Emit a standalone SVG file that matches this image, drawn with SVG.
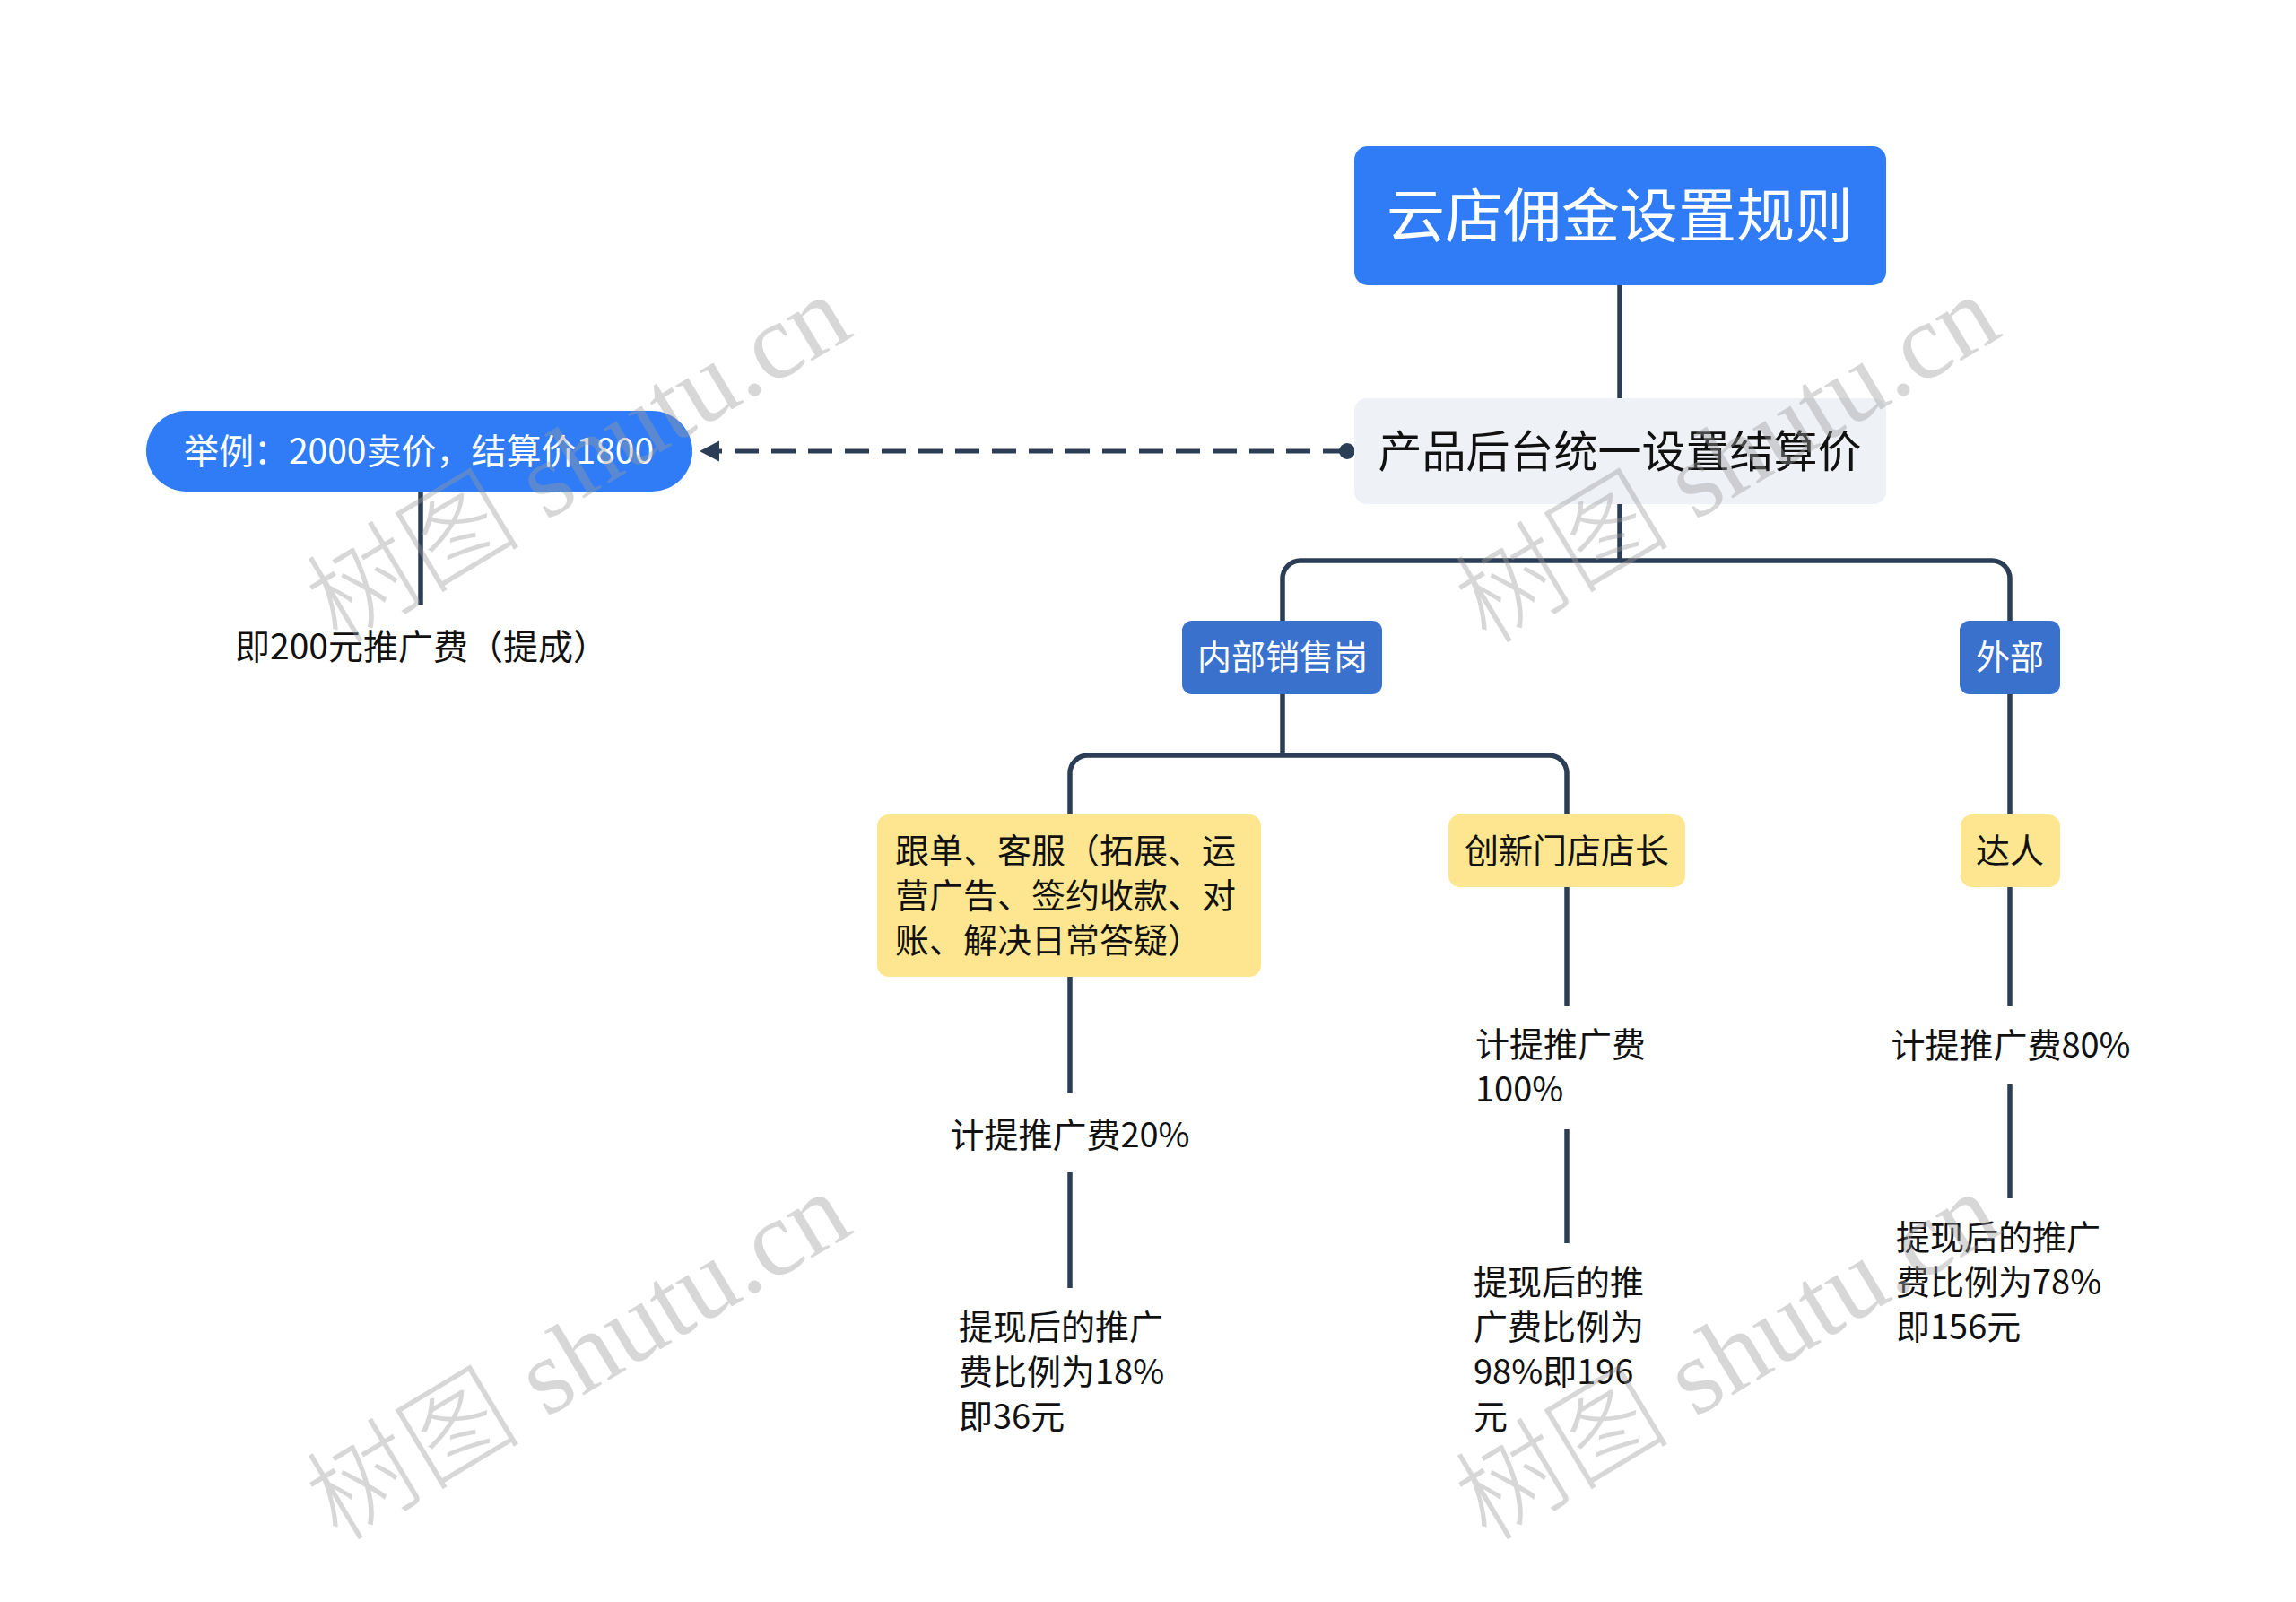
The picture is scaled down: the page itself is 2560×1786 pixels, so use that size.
<svg xmlns="http://www.w3.org/2000/svg" width="2560" height="1786" viewBox="0 0 2560 1786">
<style>
text{font-family:"Noto Sans CJK SC","Noto Sans",sans-serif;}
.line{fill:none;stroke:#2c3e55;stroke-width:5.5;}
.dash{fill:none;stroke:#2c3e55;stroke-width:5;stroke-dasharray:27 14;}
.root{fill:#2f7cf6;}
.sub{fill:#eef1f5;}
.blue{fill:#3a71cc;}
.yel{fill:#fde68f;}
.tw{fill:#ffffff;}
.tb{fill:#111111;}
.wm{font-family:"Liberation Serif","Noto Sans CJK SC",serif;font-size:120px;fill:#9a9a9a;fill-opacity:0.4;}
.wmc{font-family:"Noto Sans CJK SC",serif;font-weight:300;}
</style>
<defs>
<marker id="arrow" markerUnits="userSpaceOnUse" markerWidth="30" markerHeight="30" refX="0" refY="12" orient="auto" viewBox="0 0 30 24">
<path d="M0,0.5 L22,12 L0,23.5 z" fill="#2c3e55"/>
</marker>
<marker id="dot" markerUnits="userSpaceOnUse" markerWidth="20" markerHeight="20" refX="10" refY="10" orient="auto" viewBox="0 0 20 20">
<circle cx="10" cy="10" r="9" fill="#2c3e55"/>
</marker>
</defs>
<rect width="2560" height="1786" fill="#ffffff"/>

<g id="connectors">
<path class="line" d="M1806,318 V444"/>
<path class="line" d="M1806,562 V625"/>
<path class="line" d="M1430,692 V645 A20,20 0 0 1 1450,625 H2221 A20,20 0 0 1 2241,645 V692"/>
<path class="line" d="M1430,774 V842"/>
<path class="line" d="M1193,908 V862 A20,20 0 0 1 1213,842 H1727 A20,20 0 0 1 1747,862 V908"/>
<path class="line" d="M2241,774 V908"/>
<path class="line" d="M1193,1089 V1219"/>
<path class="line" d="M1193,1307 V1436"/>
<path class="line" d="M1747,989 V1121"/>
<path class="line" d="M1747,1259 V1386"/>
<path class="line" d="M2241,989 V1121"/>
<path class="line" d="M2241,1209 V1336"/>
<path class="line" d="M469,548 V674"/>
<path class="dash" d="M1502,503 H802" marker-start="url(#dot)" marker-end="url(#arrow)"/>
</g>

<g id="node-root">
<rect class="root" x="1510" y="163" width="593" height="155" rx="15"/>
<text class="tw" x="1806" y="264" font-size="65" text-anchor="middle">云店佣金设置规则</text>
</g>

<g id="node-settle">
<rect class="sub" x="1510" y="444" width="593" height="118" rx="14"/>
<text class="tb" x="1806" y="521" font-size="49" text-anchor="middle">产品后台统一设置结算价</text>
</g>

<g id="node-example">
<rect class="root" x="163" y="458" width="609" height="90" rx="45"/>
<text class="tw" x="467" y="517" font-size="39" text-anchor="middle">举例：2000卖价，结算价1800</text>
</g>

<g id="node-example-note">
<text class="tb" x="262" y="735" font-size="39">即200元推广费（提成）</text>
</g>

<g id="node-internal">
<rect class="blue" x="1318" y="692" width="223" height="82" rx="11"/>
<text class="tw" x="1430" y="746" font-size="38" text-anchor="middle">内部销售岗</text>
</g>

<g id="node-external">
<rect class="blue" x="2185" y="692" width="112" height="82" rx="11"/>
<text class="tw" x="2241" y="746" font-size="38" text-anchor="middle">外部</text>
</g>

<g id="node-staff">
<rect class="yel" x="978" y="908" width="428" height="181" rx="13"/>
<text class="tb" font-size="38">
<tspan x="998" y="962">跟单、客服（拓展、运</tspan>
<tspan x="998" y="1012">营广告、签约收款、对</tspan>
<tspan x="998" y="1062">账、解决日常答疑）</tspan>
</text>
</g>

<g id="node-manager">
<rect class="yel" x="1615" y="908" width="264" height="81" rx="13"/>
<text class="tb" x="1747" y="962" font-size="38" text-anchor="middle">创新门店店长</text>
</g>

<g id="node-talent">
<rect class="yel" x="2186" y="908" width="111" height="81" rx="13"/>
<text class="tb" x="2241" y="962" font-size="38" text-anchor="middle">达人</text>
</g>

<g id="node-staff-rate">
<text class="tb" x="1193" y="1279" font-size="38" text-anchor="middle">计提推广费20%</text>
</g>

<g id="node-staff-after">
<text class="tb" font-size="38">
<tspan x="1069" y="1493">提现后的推广</tspan>
<tspan x="1069" y="1543">费比例为18%</tspan>
<tspan x="1069" y="1593">即36元</tspan>
</text>
</g>

<g id="node-manager-rate">
<text class="tb" font-size="38">
<tspan x="1645" y="1178">计提推广费</tspan>
<tspan x="1645" y="1228">100%</tspan>
</text>
</g>

<g id="node-manager-after">
<text class="tb" font-size="38">
<tspan x="1643" y="1443">提现后的推</tspan>
<tspan x="1643" y="1493">广费比例为</tspan>
<tspan x="1643" y="1543">98%即196</tspan>
<tspan x="1643" y="1593">元</tspan>
</text>
</g>

<g id="node-talent-rate">
<text class="tb" x="2242" y="1179" font-size="38" text-anchor="middle">计提推广费80%</text>
</g>

<g id="node-talent-after">
<text class="tb" font-size="38">
<tspan x="2114" y="1393">提现后的推广</tspan>
<tspan x="2114" y="1443">费比例为78%</tspan>
<tspan x="2114" y="1493">即156元</tspan>
</text>
</g>

<g id="watermarks">
<text class="wm" transform="translate(646,514) rotate(-31)" x="0" y="38" text-anchor="middle"><tspan class="wmc">树图</tspan> shutu.cn</text>
<text class="wm" transform="translate(1927,514) rotate(-31)" x="0" y="38" text-anchor="middle"><tspan class="wmc">树图</tspan> shutu.cn</text>
<text class="wm" transform="translate(646,1514) rotate(-31)" x="0" y="38" text-anchor="middle"><tspan class="wmc">树图</tspan> shutu.cn</text>
<text class="wm" transform="translate(1927,1514) rotate(-31)" x="0" y="38" text-anchor="middle"><tspan class="wmc">树图</tspan> shutu.cn</text>
</g>
</svg>
